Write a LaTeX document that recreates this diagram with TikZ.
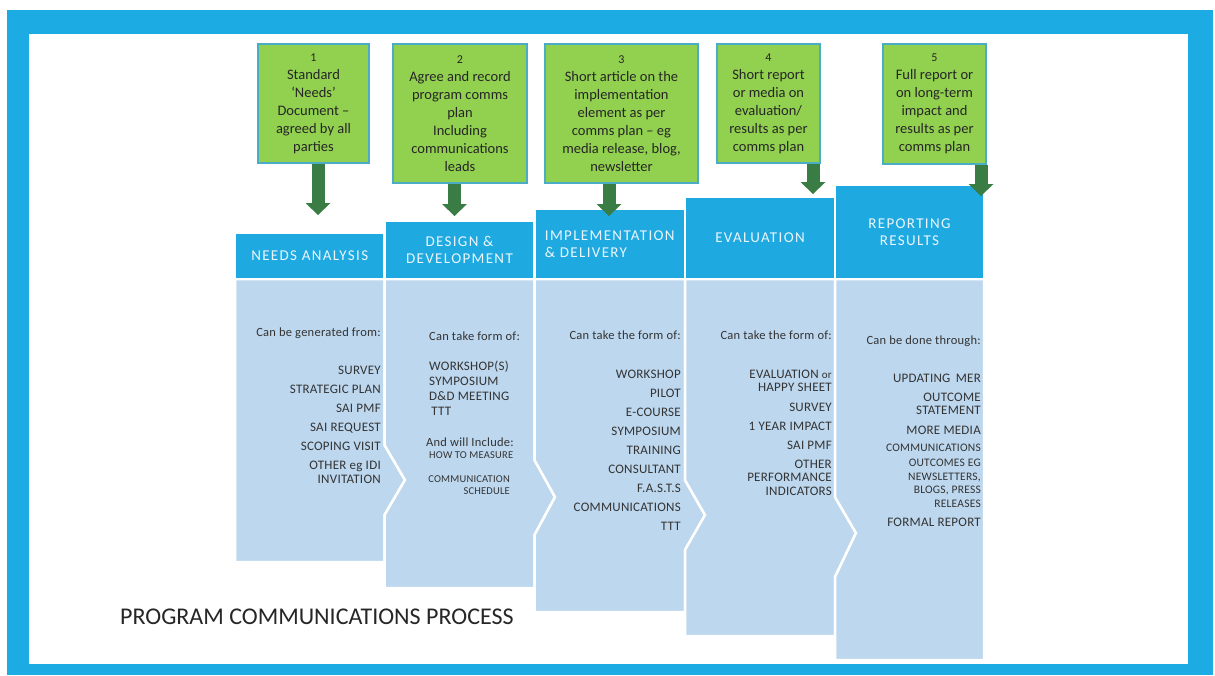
\documentclass[tikz,border=0pt]{standalone}
\usepackage{fontspec}
\setmainfont{Carlito}
\newfontfamily\hdrfont[LetterSpace=9]{Carlito}
\newfontfamily\bodyfont[LetterSpace=2]{Carlito}
\usetikzlibrary{arrows.meta,calc}
\definecolor{frameblue}{HTML}{1DABE3}
\definecolor{hdrblue}{HTML}{1FA9E1}
\definecolor{bodyblue}{HTML}{BDD7EE}
\definecolor{boxgreen}{HTML}{92D050}
\definecolor{boxedge}{HTML}{4BACC6}
\definecolor{arrgreen}{HTML}{3A7D44}
\definecolor{txtdark}{HTML}{262626}
\definecolor{bodytxt}{HTML}{333333}
\definecolor{hdrtxt}{HTML}{EAF6FC}
\begin{document}
\begin{tikzpicture}[x=1pt,y=-1pt,
 greenbox/.style={draw=boxedge, line width=1.2pt, fill=boxgreen, align=center, font=\fontsize{14.5}{18}\selectfont, text=txtdark, inner sep=0pt},
 hdr/.style={fill=hdrblue, draw=white, line width=2.5pt, text=hdrtxt, font=\hdrfont\fontsize{15}{17.5}\selectfont, inner sep=0pt},
 colbody/.style={fill=bodyblue, draw=white, line width=2.5pt, line join=miter},
 coltext/.style={text=bodytxt, font=\bodyfont\fontsize{12.5}{14}\selectfont, inner sep=0pt},
 listtext/.style={text=bodytxt, font=\bodyfont\fontsize{13}{14}\selectfont, inner sep=0pt, align=right},
 smalltext/.style={text=bodytxt, font=\bodyfont\fontsize{10.5}{12}\selectfont, inner sep=0pt},
 garrow/.style={draw=arrgreen, line width=13pt, -{Triangle[width=25pt,length=12pt,line width=0pt]}},
]
\useasboundingbox (0,0) rectangle (1215,675);
% frame
\fill[frameblue] (7,10) rectangle (1213,675);
\fill[white] (29,34) rectangle (1188,664);

% column bodies
\draw[colbody] (235,279) -- (384.5,279) -- (384.5,445) -- (405,480) -- (384.5,515) -- (384.5,562) -- (235,562) -- cycle;
\draw[colbody] (384.5,279) -- (534.5,279) -- (534.5,460) -- (555,497) -- (534.5,535) -- (534.5,588) -- (384.5,588) -- (384.5,515) -- (405,480) -- (384.5,445) -- cycle;
\draw[colbody] (534.5,279) -- (685,279) -- (685,480) -- (705,515) -- (685,550) -- (685,612) -- (534.5,612) -- (534.5,535) -- (555,497) -- (534.5,460) -- cycle;
\draw[colbody] (685,279) -- (835,279) -- (835,497) -- (856,533) -- (835,577) -- (835,636) -- (685,636) -- (685,550) -- (705,515) -- (685,480) -- cycle;
\draw[colbody] (835,279) -- (984,279) -- (984,660) -- (835,660) -- (835,577) -- (856,533) -- (835,497) -- cycle;

% headers
\node[hdr, minimum width=149.5pt, minimum height=46pt] (h1) at (309.75,256) {NEEDS ANALYSIS};
\node[hdr, minimum width=150pt, minimum height=58pt, align=center] (h2) at (459.5,250) {DESIGN \&\\DEVELOPMENT};
\node[hdr, minimum width=150.5pt, minimum height=70pt, align=left] (h3) at (609.75,244) {IMPLEMENTATION\\\& DELIVERY};
\node[hdr, minimum width=150pt, minimum height=82pt] (h4) at (760,238) {EVALUATION};
\node[hdr, minimum width=149pt, minimum height=94pt, align=center] (h5) at (909.5,232) {REPORTING\\RESULTS};

% column 1 text
\node[coltext, anchor=base east] (c1a) at (381,336) {Can be generated from:};
\node[listtext, anchor=base east] (c1b) at (381,483) {SURVEY\\[5pt]STRATEGIC PLAN\\[5pt]SAI PMF\\[5pt]SAI REQUEST\\[5pt]SCOPING VISIT\\[5pt]OTHER eg IDI\\INVITATION};

% column 2 text
\node[coltext, anchor=base west] (c2a) at (429,340) {Can take form of:};
\node[listtext, anchor=base west, align=left, font=\bodyfont\fontsize{13}{15}\selectfont] (c2b) at (429,415) {WORKSHOP(S)\\SYMPOSIUM\\D\&D MEETING\\\,TTT};
\node[coltext, anchor=base east] (c2c) at (514,446) {And will Include:};
\node[smalltext, anchor=base west] (c2d) at (429,458.5) {HOW TO MEASURE};
\node[smalltext, anchor=base east, align=right] (c2e) at (510,494) {COMMUNICATION\\SCHEDULE};

% column 3 text
\node[coltext, anchor=base east] (c3a) at (681,339) {Can take the form of:};
\node[listtext, anchor=base east] (c3b) at (681,530) {WORKSHOP\\[5pt]PILOT\\[5pt]E-COURSE\\[5pt]SYMPOSIUM\\[5pt]TRAINING\\[5pt]CONSULTANT\\[5pt]F.A.S.T.S\\[5pt]COMMUNICATIONS\\[5pt]TTT};

% column 4 text
\node[coltext, anchor=base east] (c4a) at (832,339.5) {Can take the form of:};
\node[listtext, anchor=base east, font=\bodyfont\fontsize{13}{13.5}\selectfont] (c4b) at (832,495) {EVALUATION {\fontsize{11}{13}\selectfont or}\\HAPPY SHEET\\[6pt]SURVEY\\[5.5pt]1 YEAR IMPACT\\[5.5pt]SAI PMF\\[5.5pt]OTHER\\PERFORMANCE\\INDICATORS};

% column 5 text
\node[coltext, anchor=base east] (c5a) at (981,344) {Can be done through:};
\node[listtext, anchor=base east, font=\bodyfont\fontsize{13}{13.3}\selectfont] (c5b) at (981,434) {UPDATING\, MER\\[6pt]OUTCOME\\STATEMENT\\[6pt]MORE MEDIA};
\node[listtext, anchor=base east, font=\bodyfont\fontsize{11.5}{13.5}\selectfont] (c5c) at (981,507) {COMMUNICATIONS\\[1.5pt]OUTCOMES EG\\NEWSLETTERS,\\BLOGS, PRESS\\RELEASES};
\node[listtext, anchor=base east] (c5d) at (981,526) {FORMAL REPORT};

% green boxes
\node[greenbox, minimum width=111pt, minimum height=119pt] (g1) at (313.5,103.5) {{\fontsize{12}{18}\selectfont 1}\\Standard\\`Needs'\\Document --\\agreed by all\\parties};
\node[greenbox, minimum width=134pt, minimum height=139pt] (g2) at (460,113.5) {{\fontsize{12}{18}\selectfont 2}\\Agree and record\\program comms\\plan\\Including\\communications\\leads};
\node[greenbox, minimum width=153pt, minimum height=139pt] (g3) at (621.5,113.5) {{\fontsize{12}{18}\selectfont 3}\\Short article on the\\implementation\\element as per\\comms plan -- eg\\media release, blog,\\newsletter};
\node[greenbox, minimum width=103pt, minimum height=119pt] (g4) at (768.5,103.5) {{\fontsize{12}{18}\selectfont 4}\\Short report\\or media on\\evaluation/\\results as per\\comms plan};
\node[greenbox, minimum width=103pt, minimum height=120pt] (g5) at (934.5,104) {{\fontsize{12}{18}\selectfont 5}\\Full report or\\on long-term\\impact and\\results as per\\comms plan};

% arrows
\coordinate (a1) at (318,215);
\coordinate (a2) at (454.5,216);
\coordinate (a3) at (609,216);
\coordinate (a4) at (813,194);
\coordinate (a5) at (981,196);
\draw[garrow] (g1.south -| a1) -- (a1);
\draw[garrow] (g2.south -| a2) -- (a2);
\draw[garrow] (g3.south -| a3) -- (a3);
\draw[garrow] (g4.south -| a4) -- (a4);
\draw[garrow] (g5.south -| a5) -- (a5);

% title
\node[anchor=base west, inner sep=0pt, text=txtdark, font=\fontsize{24}{28}\selectfont] (title) at (120,624) {PROGRAM COMMUNICATIONS PROCESS};
\end{tikzpicture}
\end{document}
